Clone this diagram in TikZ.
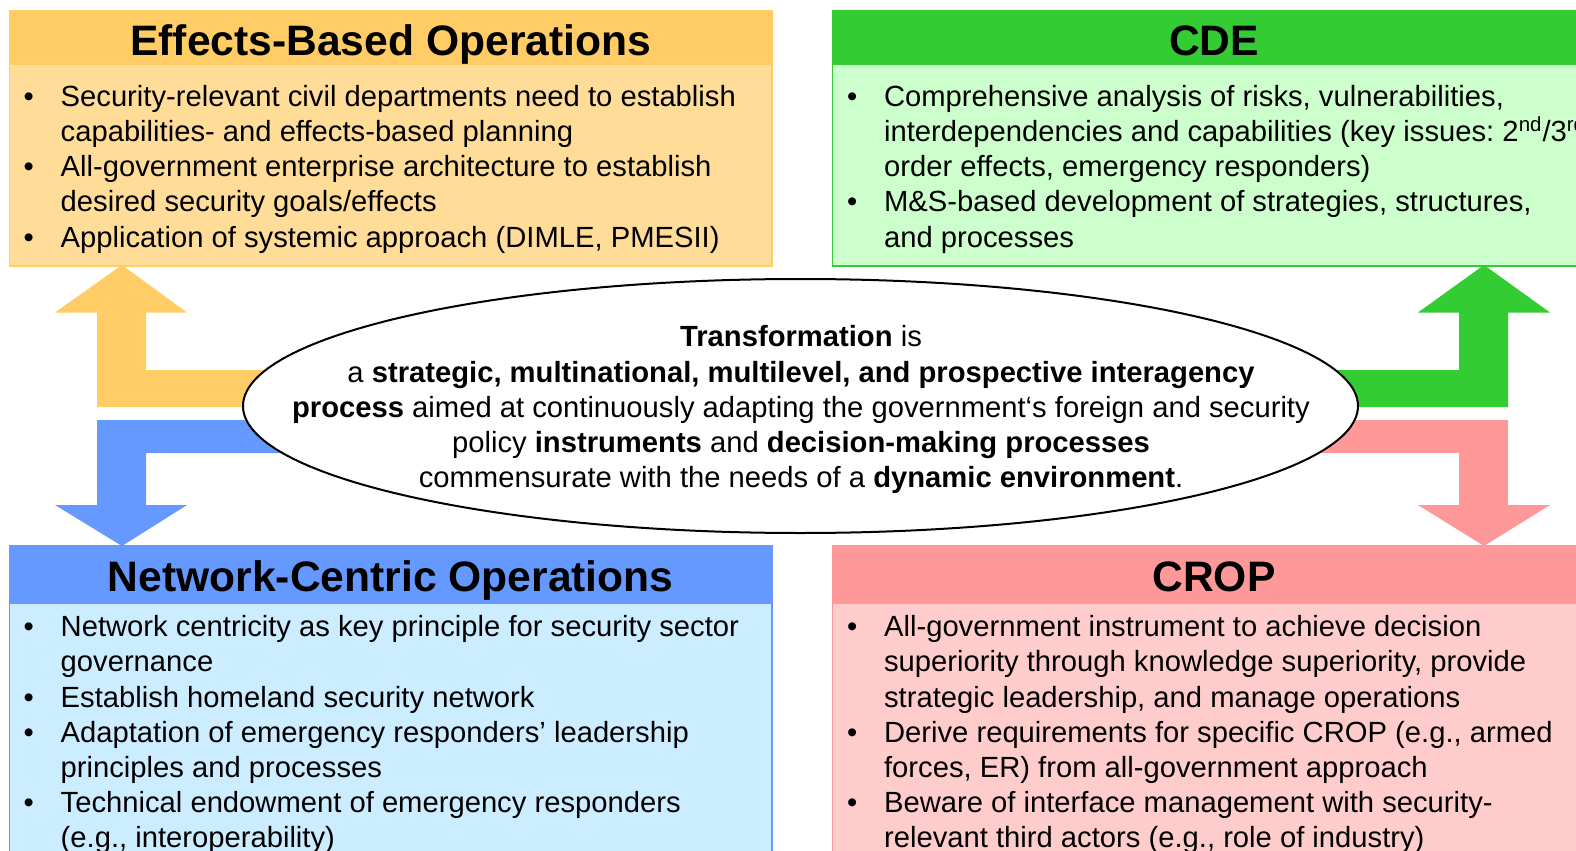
\documentclass[tikz,border=0pt]{standalone}
\usepackage{fontspec}
\setmainfont{Liberation Sans}
\usetikzlibrary{shapes.geometric}

\definecolor{eboHead}{HTML}{FFCC66}
\definecolor{eboBody}{HTML}{FFDD99}
\definecolor{cdeHead}{HTML}{33CC33}
\definecolor{cdeBody}{HTML}{CCFFCC}
\definecolor{ncoHead}{HTML}{6699FF}
\definecolor{ncoBody}{HTML}{CCECFF}
\definecolor{cropHead}{HTML}{FF9999}
\definecolor{cropBody}{HTML}{FFCCCC}

% one bullet of a box list
\newcommand{\bitem}[1]{\par\hangindent=25.5pt\hangafter=1\noindent\makebox[25.5pt][l]{\hspace{7pt}\textbullet}\strut#1}
\newcommand{\sups}[1]{\smash{\textsuperscript{#1}}}

\begin{document}
\frenchspacing
\begin{tikzpicture}[x=0.5pt,y=-0.5pt,
    hdrtext/.style={font=\fontsize{21.3}{25}\selectfont\bfseries, anchor=base, inner sep=0},
    bodytext/.style={font=\fontsize{14.6}{17.6}\selectfont, text width=#1, align=flush left, anchor=north west, inner sep=0},
    boxline/.style={line width=0.75pt}]
  \useasboundingbox (0,0) rectangle (1576,851);
  \clip (0,0) rectangle (1576,851);

  % L-shaped block arrows
  \fill[eboHead] (500,370) -- (146,370) -- (146,312.5) -- (187,312.5) -- (122,265) -- (55,312.5) -- (97,312.5) -- (97,407) -- (500,407) -- cycle;
  \fill[ncoHead] (500,453) -- (146,453) -- (146,505) -- (187,505) -- (122,546) -- (55,505) -- (97,505) -- (97,420) -- (500,420) -- cycle;
  \fill[cdeHead] (1100,370) -- (1459,370) -- (1459,312.5) -- (1418,312.5) -- (1484,265) -- (1550,312.5) -- (1508,312.5) -- (1508,407) -- (1100,407) -- cycle;
  \fill[cropHead] (1100,453) -- (1459,453) -- (1459,505) -- (1418,505) -- (1484,546) -- (1550,505) -- (1508,505) -- (1508,420) -- (1100,420) -- cycle;

  % boxes
  \draw[boxline, eboHead, fill=eboBody] (9.3,11) rectangle (772,266);
  \fill[eboHead] (9.3,11) rectangle (772,65);
  \draw[boxline, cdeHead, fill=cdeBody] (832.7,11) rectangle (1596,266);
  \fill[cdeHead] (832.7,11) rectangle (1596,65);
  \draw[boxline, ncoHead, fill=ncoBody] (9.3,546) rectangle (772,890);
  \fill[ncoHead] (9.3,546) rectangle (772,604);
  \draw[boxline, cropHead, fill=cropBody] (832.7,546) rectangle (1596,890);
  \fill[cropHead] (832.7,546) rectangle (1596,604);

  \node[hdrtext] (ebotitle) at (390.7,55) {Effects-Based Operations};
  \node[hdrtext] (cdetitle) at (1214,55) {CDE};
  \node[hdrtext] (ncotitle) at (390.7,591.7) {Network-Centric Operations};
  \node[hdrtext] (croptitle) at (1214,591.7) {CROP};

  \node[bodytext=380pt] (ebolist) at (9.3,70.8) {%
    \bitem{Security-relevant civil departments need to establish\newline capabilities- and effects-based planning}
    \bitem{All-government enterprise architecture to establish\newline desired security goals/effects}
    \bitem{Application of systemic approach (DIMLE, PMESII)}\par};
  \node[bodytext=450pt] (cdelist) at (832.7,70.8) {%
    \bitem{Comprehensive analysis of risks, vulnerabilities,\newline interdependencies and capabilities (key issues: 2\sups{nd}/3\sups{rd}\newline order effects, emergency responders)}
    \bitem{M\&S-based development of strategies, structures,\newline and processes}\par};
  \node[bodytext=380pt] (ncolist) at (9.3,601) {%
    \bitem{Network centricity as key principle for security sector\newline governance}
    \bitem{Establish homeland security network}
    \bitem{Adaptation of emergency responders’ leadership\newline principles and processes}
    \bitem{Technical endowment of emergency responders\newline (e.g., interoperability)}\par};
  \node[bodytext=450pt] (croplist) at (832.7,601) {%
    \bitem{All-government instrument to achieve decision\newline superiority through knowledge superiority, provide\newline strategic leadership, and manage operations}
    \bitem{Derive requirements for specific CROP (e.g., armed\newline forces, ER) from all-government approach}
    \bitem{Beware of interface management with security-\newline relevant third actors (e.g., role of industry)}\par};

  % central ellipse
  \node[draw, ellipse, line width=1pt, fill=white, minimum width=557.5pt, minimum height=127pt, inner sep=0] (bubble) at (800.5,406) {};
  \node[font=\fontsize{14.6}{17.6}\selectfont, align=center, anchor=north, inner sep=0] (bubbletext) at (801,321.9) {%
    \strut\textbf{Transformation} is\\
    a \textbf{strategic, multinational, multilevel, and prospective interagency}\\
    \textbf{process} aimed at continuously adapting the government‘s foreign and security\\
    policy \textbf{instruments} and \textbf{decision-making processes}\\
    commensurate with the needs of a \textbf{dynamic environment}.};
\end{tikzpicture}
\end{document}
